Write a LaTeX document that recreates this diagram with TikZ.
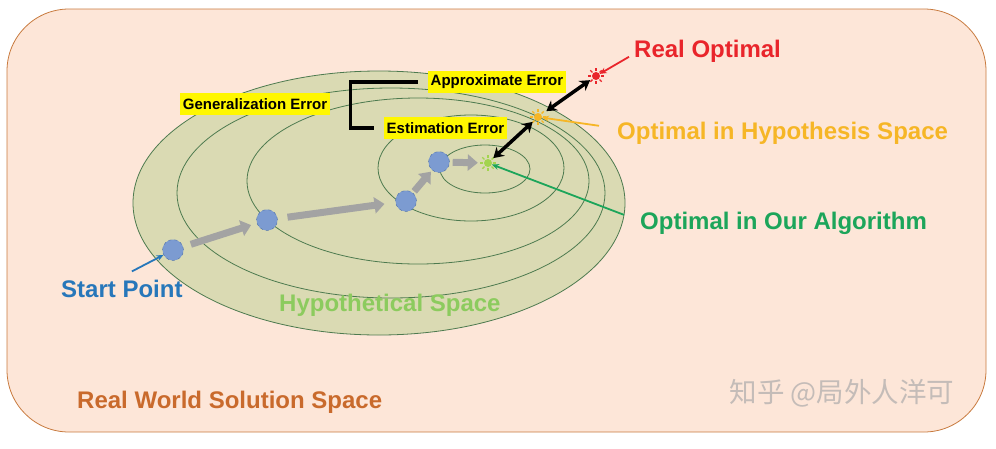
\documentclass[tikz,border=0pt]{standalone}
\usepackage{fontspec}
\setmainfont{Liberation Sans}
\newfontfamily\cjk{Noto Sans CJK SC}
\usetikzlibrary{arrows.meta}

\definecolor{spacebg}{HTML}{FDE6D8}
\definecolor{spaceline}{HTML}{C87A3E}
\definecolor{hypofill}{HTML}{DADAB3}
\definecolor{levelline}{HTML}{4D7A4F}
\definecolor{dotfill}{HTML}{7C9BD1}
\definecolor{dotline}{HTML}{4A6DA8}
\definecolor{movegray}{HTML}{A3A3A3}
\definecolor{errbox}{HTML}{FFF700}
\definecolor{realred}{HTML}{E9252B}
\definecolor{hypoorange}{HTML}{F6B626}
\definecolor{algogreen}{HTML}{1CA55A}
\definecolor{algosun}{HTML}{A2D44E}
\definecolor{startblue}{HTML}{2777BA}
\definecolor{spacegreen}{HTML}{8CCB5E}
\definecolor{worldbrown}{HTML}{C96A2C}
\definecolor{markgray}{HTML}{C4BCB8}

\begin{document}
\begin{tikzpicture}[x=1pt, y=-1pt,
  biglabel/.style={font=\fontsize{24}{28}\selectfont\bfseries, inner sep=0pt, anchor=base west},
  errlabel/.style={fill=errbox, font=\fontsize{15}{18}\selectfont\bfseries, inner sep=3pt, minimum height=22pt},
  level/.style={draw=levelline, thick},
  stepdot/.style={circle, fill=dotfill, draw=dotline, dashed, minimum size=21pt, inner sep=0pt},
  stepmove/.style={draw=movegray, line width=7pt, -{Triangle[width=16pt, length=10pt]}},
  sun/.style={circle, minimum size=8pt, inner sep=0pt, fill=#1},
  gap/.style={black, line width=3.5pt, {Stealth[length=10pt, width=12pt]}-{Stealth[length=10pt, width=12pt]}},
  pointer/.style={line width=1.8pt, -{Stealth[length=7pt, width=6pt]}}]

\useasboundingbox (0,0) rectangle (996,448);

% REAL WORLD SPACE
  \draw[fill=spacebg, draw=spaceline, thick, rounded corners=62pt] (7,9) rectangle (986,432);

% HYPOTHESIS SPACE LEVELS
  \draw[level, fill=hypofill] (379,203) ellipse [x radius=246pt, y radius=132pt];
  \draw[level] (391,193) ellipse [x radius=214pt, y radius=105pt];
  \draw[level] (418,181) ellipse [x radius=171pt, y radius=83pt];
  \draw[level] (471,168) ellipse [x radius=93pt, y radius=53pt];
  \draw[level] (485,169) ellipse [x radius=45pt, y radius=24pt];

% STEPS
  \node[stepdot] (pt1) at (173,250) {};
  \node[stepdot] (pt2) at (267,220) {};
  \node[stepdot] (pt3) at (406,201) {};
  \node[stepdot] (pt4) at (439,162) {};

% OPTIMA
  \node[sun=algosun]    (sunalgo) at (488,163) {};
  \node[sun=hypoorange] (sunhypo) at (538,117) {};
  \node[sun=realred]    (sunreal) at (596,76) {};
  \foreach \s/\c in {sunalgo/algosun, sunhypo/hypoorange, sunreal/realred}
    \foreach \a in {0,45,...,315}
      \draw[\c, line width=1.4pt] ([shift={(\a:5pt)}]\s.center) -- ([shift={(\a:8pt)}]\s.center);

  \draw[stepmove, shorten <=8pt, shorten >=6pt] (pt1) -- (pt2);
  \draw[stepmove, shorten <=10pt, shorten >=11pt] (pt2) -- (pt3);
  \draw[stepmove, shorten <=2pt, shorten >=2pt] (pt3) -- (pt4);
  \draw[stepmove, shorten <=3pt, shorten >=6pt] (pt4) -- (sunalgo);

% ERRORS
  \draw[gap, shorten <=6pt, shorten >=3pt] (sunhypo) -- (sunreal);
  \draw[gap, shorten <=3pt, shorten >=3pt] (sunalgo) -- (sunhypo);

  \node[errlabel] (approxerr) at (497,82)  {Approximate Error};
  \node[errlabel] (generr)    at (255,104) {Generalization Error};
  \node[errlabel] (esterr)    at (445.5,128) {Estimation Error};
  \draw[black, line width=3.5pt] ([xshift=-10pt]approxerr.west) -- ++(-67,0) |- ([xshift=-10pt]esterr.west);

% LABELS
  \node[biglabel, text=realred]    (realopt)   at (634,57)  {Real Optimal};
  \node[biglabel, text=hypoorange] (hypoopt)   at (617,139) {Optimal in Hypothesis Space};
  \node[biglabel, text=algogreen]  (algoopt)   at (640,229) {Optimal in Our Algorithm};
  \node[biglabel, text=startblue]  (startpt)   at (61,297)  {Start Point};
  \node[biglabel, text=spacegreen] (hypospace) at (279,311) {Hypothetical Space};
  \node[biglabel, text=worldbrown] (realspace) at (77,408)  {Real World Solution Space};

  \draw[pointer, realred]    ([shift={(-5,6)}]realopt.west)   -- (sunreal);
  \draw[pointer, hypoorange] ([shift={(-18,-7)}]hypoopt.west) -- (sunhypo);
  \draw[pointer, algogreen]  ([shift={(-16,-8)}]algoopt.west) -- (sunalgo);
  \draw[pointer, startblue]  ([shift={(10,-8)}]startpt.north) -- (pt1);

% WATERMARK
  \node[text=markgray, font=\cjk\fontsize{27.5}{32}\selectfont] (mark) at (842,393) {知乎 @局外人洋可};
\end{tikzpicture}
\end{document}
